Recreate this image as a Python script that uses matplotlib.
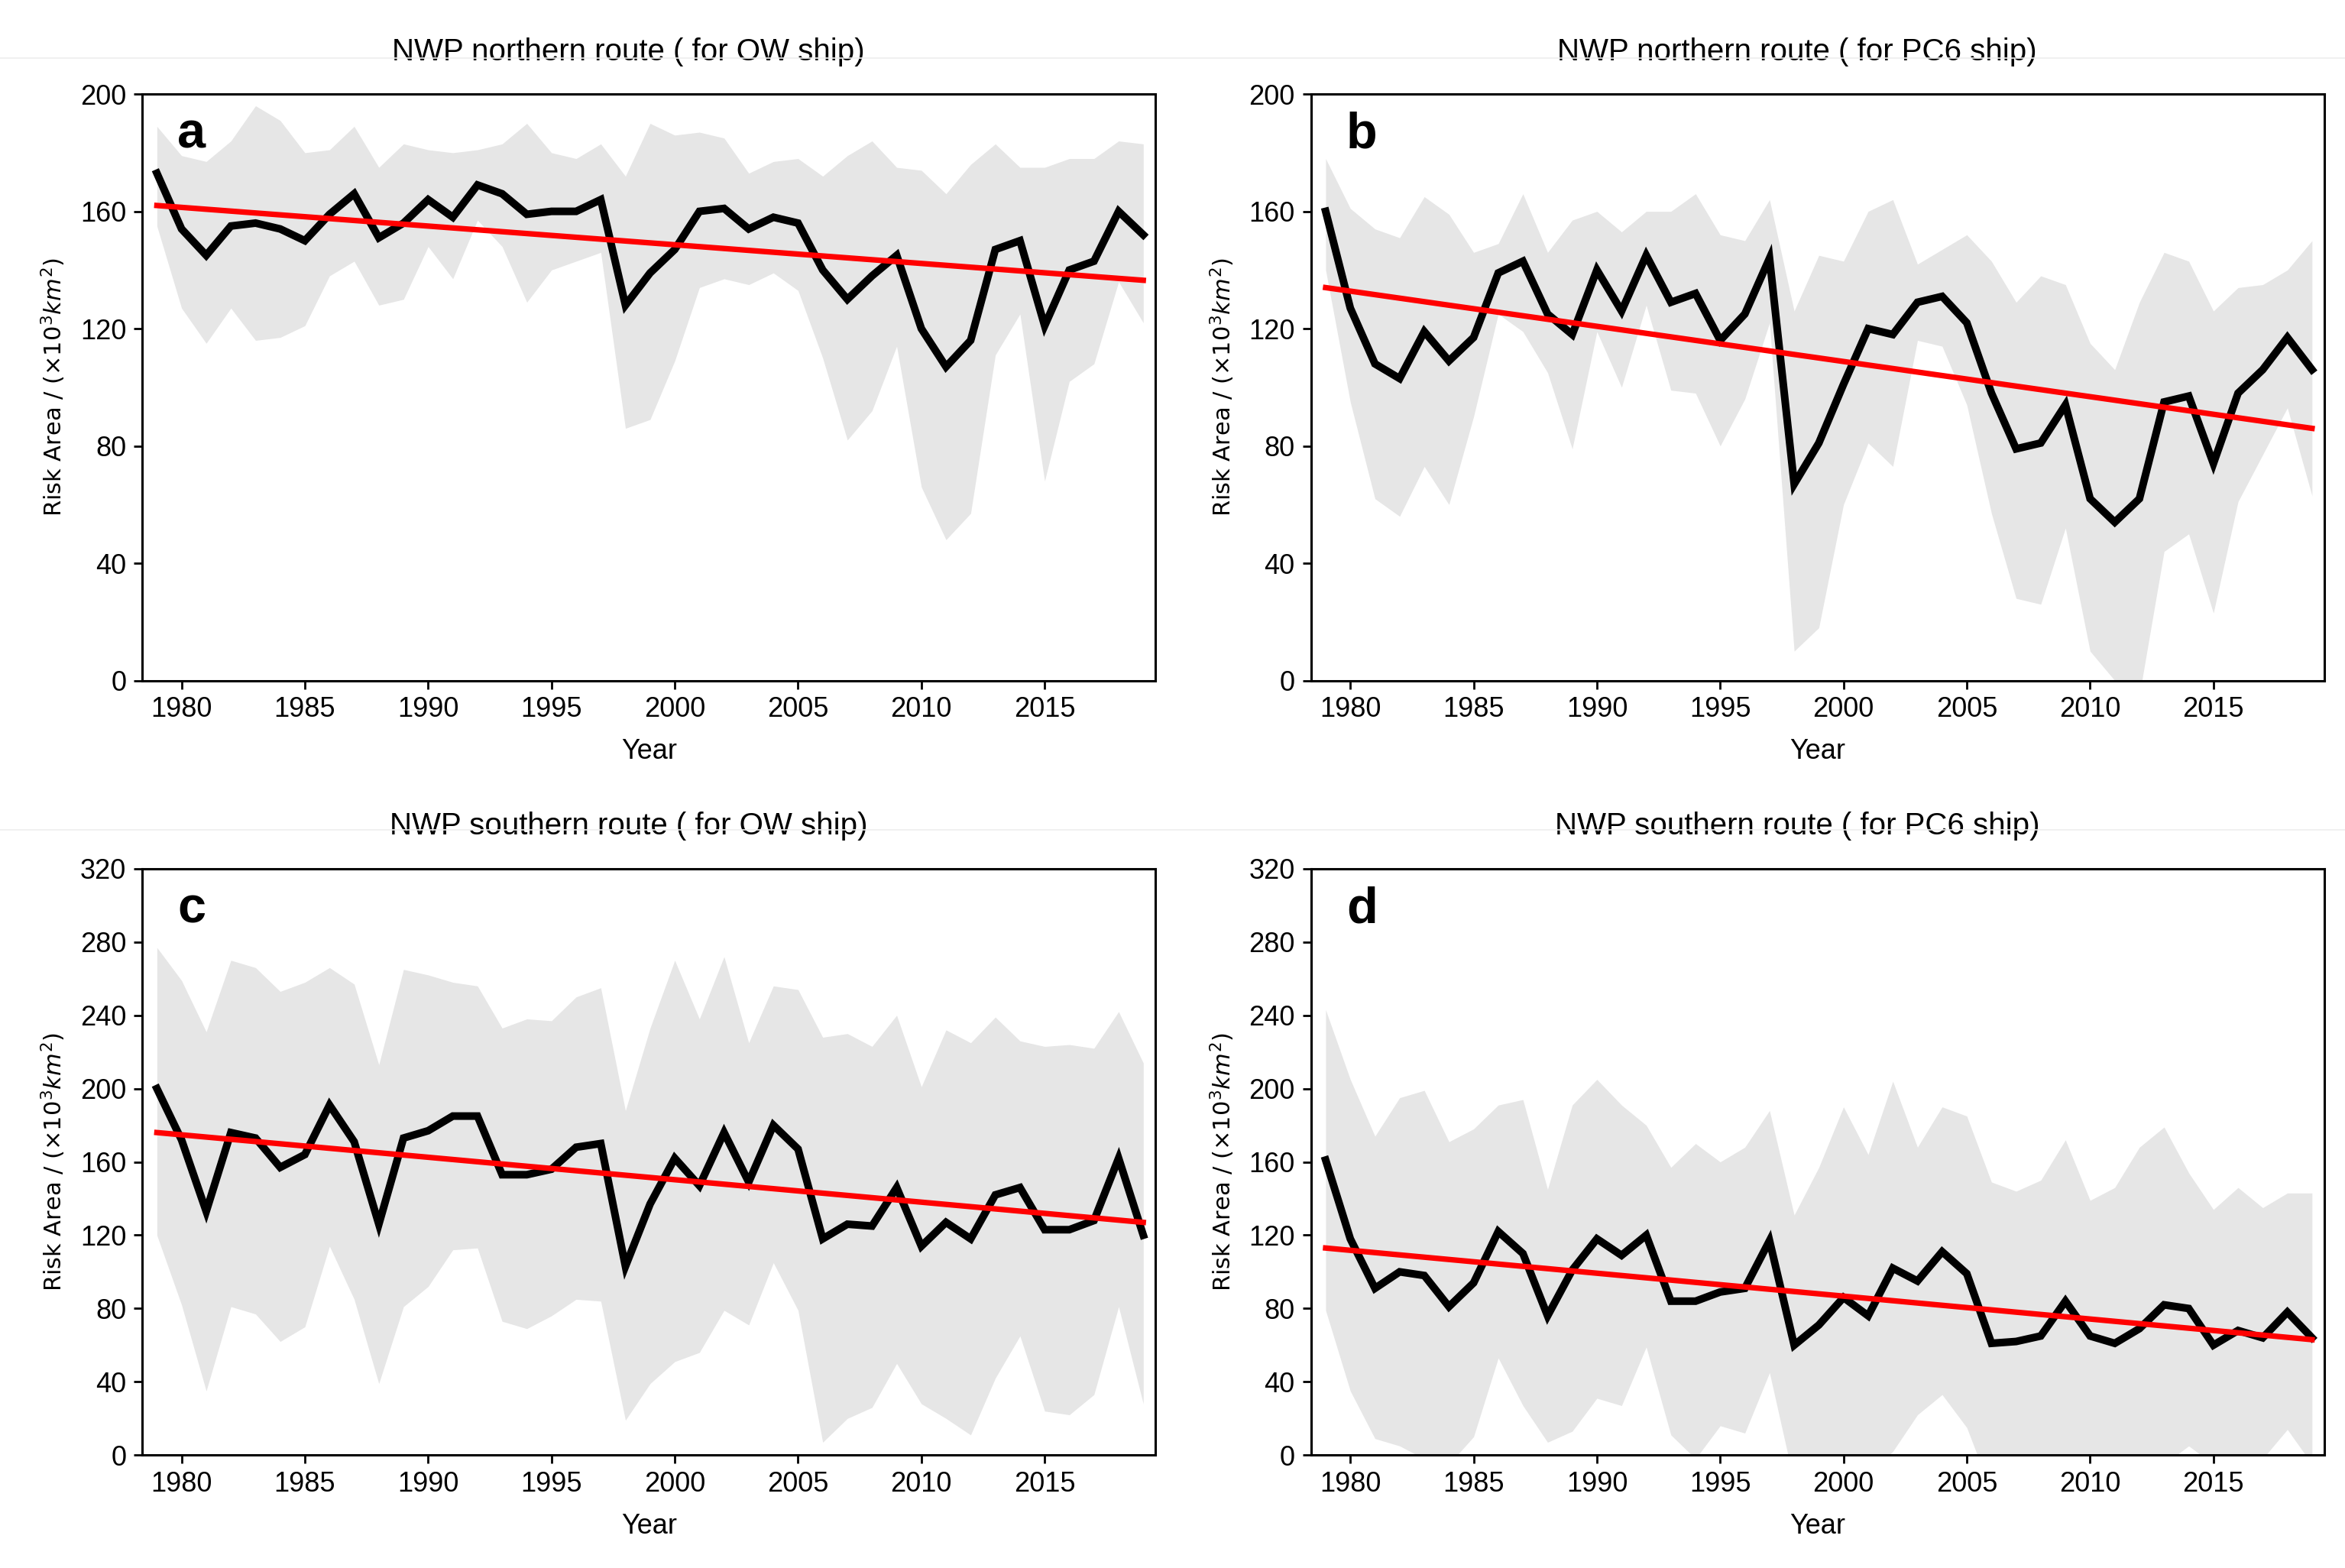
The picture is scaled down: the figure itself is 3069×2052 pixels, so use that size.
import matplotlib
matplotlib.use('Agg')
import matplotlib.pyplot as plt
from matplotlib.lines import Line2D
import numpy as np

years = np.arange(1979, 2020)

# panel a : NWP northern route, OW ship
a_mean = [173, 154, 145, 155, 156, 154, 150, 159, 166, 151, 156, 164, 158, 169, 166, 159, 160, 160, 164, 128,
          139, 147, 160, 161, 154, 158, 156, 140, 130, 138, 145, 120, 107, 116, 147, 150, 121, 140, 143, 160, 152]
a_upper = [189, 179, 177, 184, 196, 191, 180, 181, 189, 175, 183, 181, 180, 181, 183, 190, 180, 178, 183, 172,
           190, 186, 187, 185, 173, 177, 178, 172, 179, 184, 175, 174, 166, 176, 183, 175, 175, 178, 178, 184, 183]
a_lower = [155, 127, 115, 127, 116, 117, 121, 138, 143, 128, 130, 148, 137, 157, 148, 129, 140, 143, 146, 86,
           89, 109, 134, 137, 135, 139, 133, 110, 82, 92, 114, 66, 48, 57, 111, 125, 68, 102, 108, 136, 122]
a_trend = [162.0, 136.5]

# panel b : NWP northern route, PC6 ship
b_mean = [160, 127, 108, 103, 119, 109, 117, 139, 143, 125, 118, 140, 126, 145, 129, 132, 116, 125, 144, 67,
          81, 101, 120, 118, 129, 131, 122, 98, 79, 81, 94, 62, 54, 62, 95, 97, 74, 98, 106, 117, 106]
b_upper = [178, 161, 154, 151, 165, 159, 146, 149, 166, 146, 157, 160, 153, 160, 160, 166, 152, 150, 164, 126,
           145, 143, 160, 164, 142, 147, 152, 143, 129, 138, 135, 115, 106, 129, 146, 143, 126, 134, 135, 140, 150]
b_lower = [140, 95, 62, 56, 73, 60, 90, 125, 119, 105, 79, 119, 100, 128, 99, 98, 80, 96, 122, 10,
           18, 60, 81, 73, 116, 114, 94, 57, 28, 26, 52, 10, 0, -5, 44, 50, 23, 61, 77, 93, 63]
b_trend = [134.0, 86.0]

# panel c : NWP southern route, OW ship
c_mean = [200, 172, 133, 176, 173, 157, 164, 191, 171, 126, 173, 177, 185, 185, 153, 153, 156, 168, 170, 103,
          137, 162, 147, 176, 149, 180, 167, 118, 126, 125, 146, 114, 127, 118, 142, 146, 123, 123, 128, 162, 120]
c_upper = [277, 259, 231, 270, 266, 253, 258, 266, 257, 213, 265, 262, 258, 256, 233, 238, 237, 250, 255, 188,
           233, 270, 238, 272, 225, 256, 254, 228, 230, 223, 240, 201, 232, 225, 239, 226, 223, 224, 222, 242, 214]
c_lower = [120, 82, 35, 81, 77, 62, 70, 114, 85, 39, 81, 92, 112, 113, 73, 69, 76, 85, 84, 19,
           39, 51, 56, 79, 71, 105, 79, 7, 20, 26, 50, 28, 20, 11, 42, 65, 24, 22, 33, 81, 28]
c_trend = [176.0, 127.0]

# panel d : NWP southern route, PC6 ship
d_mean = [161, 118, 91, 100, 98, 81, 94, 122, 110, 76, 101, 118, 109, 120, 84, 84, 89, 91, 117, 60,
          71, 86, 76, 102, 95, 111, 99, 61, 62, 65, 84, 65, 61, 69, 82, 80, 60, 68, 64, 78, 64]
d_upper = [243, 205, 174, 195, 199, 171, 178, 191, 194, 145, 191, 205, 191, 180, 157, 170, 160, 168, 188, 131,
           157, 190, 164, 204, 168, 190, 185, 149, 144, 150, 172, 139, 146, 168, 179, 154, 134, 146, 135, 143, 143]
d_lower = [79, 35, 9, 5, -2, -5, 10, 53, 27, 7, 13, 31, 27, 59, 11, -2, 16, 12, 45, -15,
           -20, -20, -10, 2, 22, 33, 15, -20, -20, -20, -20, -20, -20, -10, -5, 5, -5, -15, -2, 14, -5]
d_trend = [113.0, 63.0]

titles = ['NWP northern route ( for OW ship)', 'NWP northern route ( for PC6 ship)',
          'NWP southern route ( for OW ship)', 'NWP southern route ( for PC6 ship)']
letters = ['a', 'b', 'c', 'd']
ytops = [200, 200, 320, 320]

means = [a_mean, b_mean, c_mean, d_mean]
uppers = [a_upper, b_upper, c_upper, d_upper]
lowers = [a_lower, b_lower, c_lower, d_lower]
trends = [a_trend, b_trend, c_trend, d_trend]

plt.rcParams['font.family'] = ['Liberation Sans Narrow', 'Liberation Sans', 'DejaVu Sans']

fig = plt.figure(figsize=(15.345, 10.26), dpi=200)

boxes = [[0.0606, 0.566, 0.4322, 0.374],
         [0.559, 0.566, 0.4322, 0.374],
         [0.0606, 0.072, 0.4322, 0.374],
         [0.559, 0.072, 0.4322, 0.374]]

# faint separator lines under the titles
fig.add_artist(Line2D([0, 1], [0.963, 0.963], color='#eeeeee', lw=0.6))
fig.add_artist(Line2D([0, 1], [0.471, 0.471], color='#eeeeee', lw=0.6))

for i in range(4):
    ax = fig.add_axes(boxes[i])
    ax.fill_between(years, lowers[i], uppers[i], color='#e6e6e6', lw=0)
    ax.plot(years, means[i], color='black', lw=3.6, solid_joinstyle='miter')
    ax.plot([years[0], years[-1]], trends[i], color='red', lw=2.6)
    ax.set_xlim(1978.4, 2019.5)
    ax.set_ylim(0, ytops[i])
    ax.set_xticks(np.arange(1980, 2020, 5))
    ax.set_yticks(np.arange(0, ytops[i] + 1, 40))
    ax.tick_params(direction='out', length=4, width=1, labelsize=13, top=False, right=False)
    for s in ax.spines.values():
        s.set_linewidth(1.1)
    ax.set_xlabel('Year', fontsize=13, labelpad=7)
    ax.set_ylabel(r'Risk Area / $(\times10^3km^2)$', fontsize=11, family='DejaVu Sans', labelpad=6)
    ax.set_title(titles[i], fontsize=14.5, pad=16, x=0.48)
    ax.text(0.035, 0.93, letters[i], transform=ax.transAxes, fontsize=24, fontweight='bold',
            family=['Liberation Sans', 'DejaVu Sans'], va='center', ha='left')

fig.savefig('out.png', dpi=200)
